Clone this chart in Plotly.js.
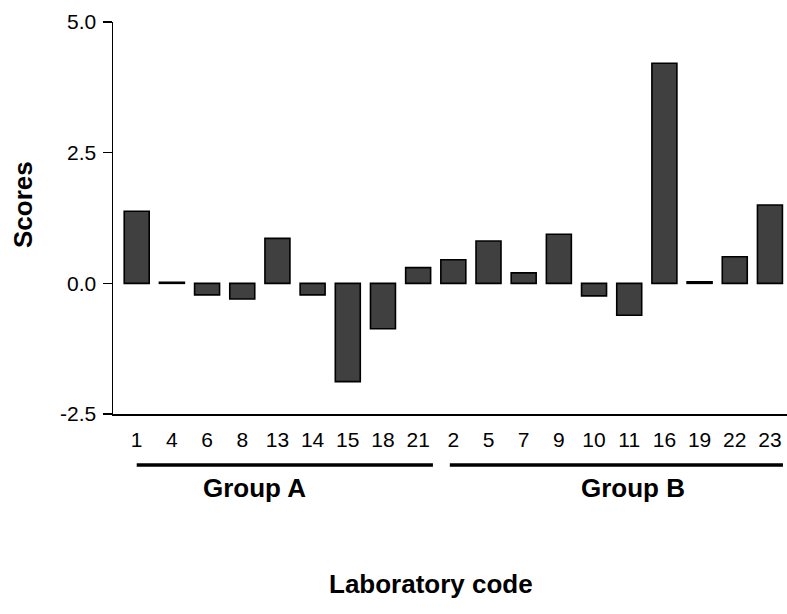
<!DOCTYPE html>
<html>
<head>
<meta charset="utf-8">
<script src="https://cdn.plot.ly/plotly-3.0.1.min.js"></script>
<style>html,body{margin:0;padding:0;background:#fff;}#chart{width:787px;height:614px;}</style>
</head>
<body>
<div id="chart"></div>
<script>
// Data
const labCodes = ["1","4","6","8","13","14","15","18","21","2","5","7","9","10","11","16","19","22","23"];
const scores   = [1.38, 0.02, -0.22, -0.30, 0.86, -0.22, -1.88, -0.87, 0.30,
                  0.45, 0.81, 0.20, 0.94, -0.24, -0.61, 4.21, 0.03, 0.51, 1.50];
const groupNames = ["Group A", "Group B"];
const groupStart = [0, 8.9];
const groupEnd   = [8.42, 18.37];
const groupLabelX = [3.36, 14.12];
const yTicks = [-2.5, 0, 2.5, 5];
const yTickText = ["-2.5", "0.0", "2.5", "5.0"];

const FONT = "Liberation Sans, Arial, sans-serif";

const trace = {
  type: "bar",
  x: labCodes.map((_, i) => i),
  y: scores,
  width: 0.71,
  marker: {color: "#404040", line: {color: "#000000", width: 1.6}},
  hoverinfo: "none"
};

const shapes = groupNames.map((g, i) => ({
  type: "line", xref: "x", yref: "paper",
  x0: groupStart[i] - 0.0, x1: groupEnd[i], y0: -0.13, y1: -0.13,
  line: {color: "#000", width: 3.5}
}));

const annotations = groupNames.map((g, i) => ({
  text: "<b>" + g + "</b>", xref: "x", yref: "paper",
  x: groupLabelX[i], y: -0.19, showarrow: false,
  xanchor: "center", yanchor: "middle",
  font: {family: FONT, size: 26, color: "#000"}
}));
annotations.push({
  text: "<b>Scores</b>", xref: "paper", yref: "paper",
  x: (23 - 113) / 674, y: (414 - 205) / 392, showarrow: false, textangle: -90,
  xanchor: "center", yanchor: "middle",
  font: {family: FONT, size: 26, color: "#000"}
});
annotations.push({
  text: "<b>Laboratory code</b>", xref: "paper", yref: "paper",
  x: (431 - 113) / 674, y: (414 - 584) / 392, showarrow: false,
  xanchor: "center", yanchor: "middle",
  font: {family: FONT, size: 26, color: "#000"}
});

const layout = {
  width: 787, height: 614,
  margin: {l: 113, r: 0, t: 22, b: 200},
  paper_bgcolor: "#fff", plot_bgcolor: "#fff",
  showlegend: false,
  font: {family: FONT, color: "#000"},
  xaxis: {
    range: [-0.674, 18.485],
    tickvals: labCodes.map((_, i) => i), ticktext: labCodes,
    showline: true, linecolor: "#000", linewidth: 1.5,
    ticks: "", showgrid: false, zeroline: false,
    tickfont: {family: FONT, size: 21, color: "#000"},
    ticklabelstandoff: 6
  },
  yaxis: {
    range: [-2.5, 5],
    tickvals: yTicks, ticktext: yTickText,
    showline: true, linecolor: "#000", linewidth: 1.5,
    ticks: "outside", ticklen: 9, tickwidth: 1.5, tickcolor: "#000",
    showgrid: false, zeroline: false,
    tickfont: {family: FONT, size: 21, color: "#000"},
    ticklabelstandoff: 2
  },
  shapes: shapes,
  annotations: annotations,
  bargap: 0.29
};

Plotly.newPlot("chart", [trace], layout, {staticPlot: true, displayModeBar: false});
</script>
</body>
</html>
